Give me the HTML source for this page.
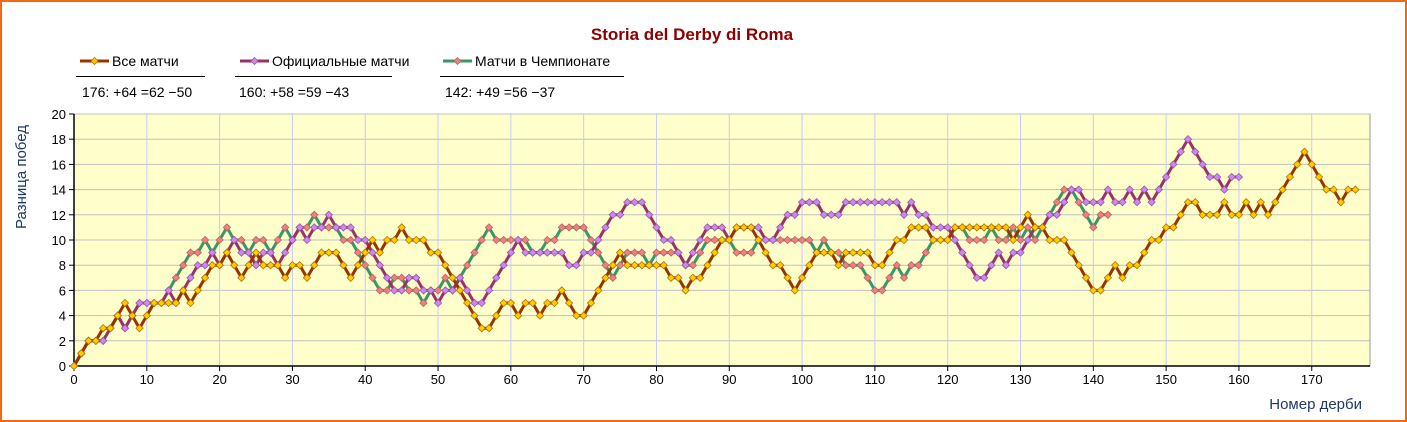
<!DOCTYPE html>
<html><head><meta charset="utf-8">
<style>
html,body{margin:0;padding:0;background:#fff;}
#wrap{position:relative;width:1407px;height:422px;box-sizing:border-box;border:2px solid #f26a10;background:#fff;overflow:hidden;font-family:"Liberation Sans",sans-serif;}
svg{position:absolute;left:0;top:0;}
</style></head>
<body>
<div id="wrap">
<svg id="chart" width="1407" height="422" font-family="Liberation Sans, sans-serif"></svg>
</div>
<script>
const allMatches=[0,1,2,2,3,3,4,5,4,3,4,5,5,5,5,6,5,6,7,8,8,9,8,7,8,9,8,8,8,7,8,8,7,8,9,9,9,8,7,8,9,10,9,10,10,11,10,10,10,9,9,8,7,6,5,4,3,3,4,5,5,4,5,5,4,5,5,6,5,4,4,5,6,7,8,9,8,8,8,8,8,8,7,7,6,7,7,8,9,10,10,11,11,11,10,9,8,8,7,6,7,8,9,9,9,8,9,9,9,9,8,8,9,10,10,11,11,11,10,10,10,11,11,11,11,11,11,11,11,10,11,12,11,11,10,10,10,9,8,7,6,6,7,8,7,8,8,9,10,10,11,11,12,13,13,12,12,12,13,12,12,13,12,13,12,13,14,15,16,17,16,15,14,14,13,14,14];
const officialMatches=[0,1,2,2,2,3,4,3,4,5,5,5,5,6,5,6,7,8,8,9,8,9,10,9,9,8,9,9,8,9,10,11,10,11,11,12,11,11,11,10,10,9,8,7,6,6,7,7,6,6,5,6,6,7,6,5,5,6,7,8,9,10,9,9,9,9,9,9,8,8,9,9,10,11,12,12,13,13,13,12,11,10,10,9,8,9,10,11,11,11,10,11,11,11,11,10,10,11,12,12,13,13,13,12,12,12,13,13,13,13,13,13,13,13,12,13,12,12,11,11,11,10,9,8,7,7,8,9,8,9,9,10,11,11,12,12,13,14,14,13,13,13,14,13,13,14,13,14,13,14,15,16,17,18,17,16,15,15,14,15,15];
const leagueMatches=[0,1,2,2,2,3,4,3,4,5,5,5,5,6,7,8,9,9,10,9,10,11,10,10,9,10,10,9,10,11,10,11,11,12,11,11,11,10,10,9,8,7,6,6,7,7,6,6,5,6,6,7,6,7,8,9,10,11,10,10,10,10,10,9,9,10,10,11,11,11,11,10,9,8,7,8,9,9,9,8,9,9,9,9,8,8,9,10,10,10,10,9,9,9,10,10,10,10,10,10,10,10,9,10,9,9,8,8,8,7,6,6,7,8,7,8,8,9,10,10,10,11,11,10,10,10,11,10,10,11,10,11,10,11,12,13,14,14,13,12,11,12,12];
const yTicks=[0,2,4,6,8,10,12,14,16,18,20];
const xTicks=[0,10,20,30,40,50,60,70,80,90,100,110,120,130,140,150,160,170];
const seriesNames=["Все матчи","Официальные матчи","Матчи в Чемпионате"];
const seriesStats=["176: +64 =62 −50","160: +58 =59 −43","142: +49 =56 −37"];

const NS="http://www.w3.org/2000/svg";
const svg=document.getElementById('chart');
const L=72,R=1368,T=112,B=364,XMAX=178,YMAX=20;
const xs=v=>L+v*(R-L)/XMAX;
const ys=v=>B-v*(B-T)/YMAX;
function mk(tag,attrs,parent){const e=document.createElementNS(NS,tag);for(const k in attrs)e.setAttribute(k,attrs[k]);(parent||svg).appendChild(e);return e;}

// title
let t=mk('text',{x:690,y:38,'text-anchor':'middle','font-size':17,'font-weight':'bold',fill:'#8b0000'});


t.textContent='Storia del Derby di Roma';

// plot bg
let bg=mk('rect',{x:L,y:T,width:R-L,height:B-T,fill:'#ffffcc',stroke:'#999',"stroke-width":1});



// grid
yTicks.forEach(v=>{
  if(v>0){let g=mk('line',{x1:L,x2:R,y1:ys(v),y2:ys(v),stroke:'#c0c0c0','stroke-width':1});
  
  }
  let tk=mk('line',{x1:L-5,x2:L,y1:ys(v),y2:ys(v),stroke:'#000'});
  
  
  let lb=mk('text',{x:L-8,y:ys(v)+5,'text-anchor':'end','font-size':13,fill:'#000'});
  
  
  lb.textContent=v;
});
xTicks.forEach(v=>{
  if(v>0){let g=mk('line',{x1:xs(v),x2:xs(v),y1:T,y2:B,stroke:'#c8c8ff','stroke-width':1});
  
  }
  let tk=mk('line',{x1:xs(v),x2:xs(v),y1:B,y2:B+5,stroke:'#000'});
  
  
  let lb=mk('text',{x:xs(v),y:B+18,'text-anchor':'middle','font-size':13,fill:'#000'});
  
  
  lb.textContent=v;
});
let ax=mk('line',{x1:L,x2:L,y1:T,y2:B,stroke:'#000','stroke-width':1.5});


let ax2=mk('line',{x1:L,x2:R,y1:B,y2:B,stroke:'#000','stroke-width':1.5});



let yt=mk('text',{x:0,y:0,'text-anchor':'middle','font-size':15,fill:'#1f3864',transform:'translate(24,175) rotate(-90)'});


yt.textContent='Разница побед';
let xt=mk('text',{x:1360,y:407,'text-anchor':'end','font-size':15,fill:'#1f3864'});


xt.textContent='Номер дерби';

const styles=[{line:'#993300',mark:'#ffcc00',edge:'#b07000'},{line:'#993366',mark:'#cc88ee',edge:'#9955aa'},{line:'#339966',mark:'#ee8080',edge:'#c06060'}];
const data=[allMatches,officialMatches,leagueMatches];
const seriesKeys=['all-matches','official-matches','league-matches'];

function drawSeries(i){
  const arr=data[i],st=styles[i];
  const g=mk('g',{});
  
  
  const pts=arr.map((v,k)=>xs(k).toFixed(1)+','+ys(v).toFixed(1)).join(' ');
  const pl=mk('polyline',{points:pts,fill:'none',stroke:st.line,'stroke-width':3,'stroke-linejoin':'round'},g);
  
  
  arr.forEach((v,k)=>{
    const cx=xs(k),cy=ys(v),r=3.6;
    const p=mk('polygon',{points:`${cx},${cy-r} ${cx+r},${cy} ${cx},${cy+r} ${cx-r},${cy}`,fill:st.mark,stroke:st.edge,'stroke-width':0.8},g);
    
    
  });
}
drawSeries(2);drawSeries(1);drawSeries(0);

// legend
const legX=[{s:78,u1:74,u2:203,st:80},{s:238,u1:233,u2:390,st:237},{s:441,u1:438,u2:622,st:443}];
legX.forEach((p,i)=>{
  const g=mk('g',{});
  
  
  mk('line',{x1:p.s,x2:p.s+29,y1:59,y2:59,stroke:styles[i].line,'stroke-width':3},g);
  const c=p.s+14.5;
  mk('polygon',{points:`${c},55.5 ${c+3.5},59 ${c},62.5 ${c-3.5},59`,fill:styles[i].mark,stroke:styles[i].edge,'stroke-width':0.8},g);
  const tx=mk('text',{x:p.s+32,y:64,'font-size':14,fill:'#000'},g);
  
  
  tx.textContent=seriesNames[i];
  mk('line',{x1:p.u1,x2:p.u2,y1:74.5,y2:74.5,stroke:'#000','stroke-width':1},g);
  const s2=mk('text',{x:p.st,y:95,'font-size':14,fill:'#000'},g);
  
  
  s2.textContent=seriesStats[i];
});
</script>
</body></html>
